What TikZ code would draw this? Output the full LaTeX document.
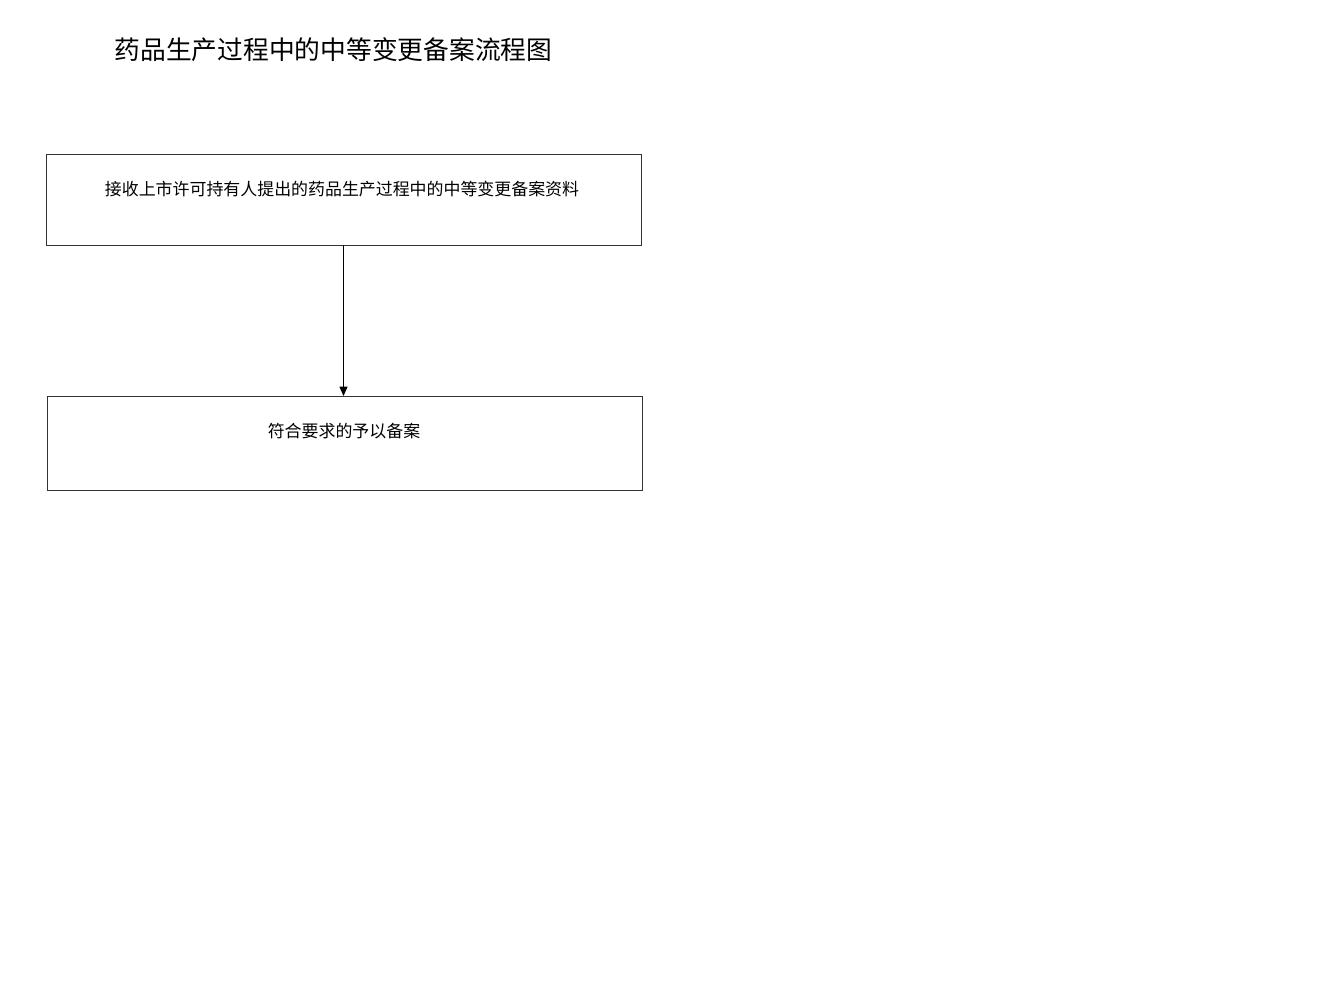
\documentclass[tikz,border=0pt]{standalone}
\usepackage{fontspec}
\newfontfamily\cjk{Noto Sans CJK SC}
\usetikzlibrary{arrows.meta}
\begin{document}
\begin{tikzpicture}[x=0.75pt,y=-0.75pt,
  boxstyle/.style={draw=black!80,line width=0.75pt},
  lbl/.style={font=\cjk\fontsize{12.7}{14}\selectfont,inner sep=0pt},
  conn/.style={draw,line width=0.75pt,-{Triangle[length=7pt,width=6pt]}}]
\useasboundingbox (0,0) rectangle (1333,1000);
\fill[white] (0,0) rectangle (1333,1000);
\node[font=\cjk\fontsize{19.3}{21}\selectfont,inner sep=0pt] (title) at (333.5,50) {药品生产过程中的中等变更备案流程图};
\draw[boxstyle] (46,154) rectangle (641,245);
\coordinate (b1) at (343.5,245);
\node[lbl] (t1) at (342,189) {接收上市许可持有人提出的药品生产过程中的中等变更备案资料};
\draw[boxstyle] (47,396) rectangle (642,490);
\coordinate (b2) at (343.5,396);
\node[lbl] (t2) at (344,431) {符合要求的予以备案};
\draw[conn] (b1) -- (b2);
\end{tikzpicture}
\end{document}
